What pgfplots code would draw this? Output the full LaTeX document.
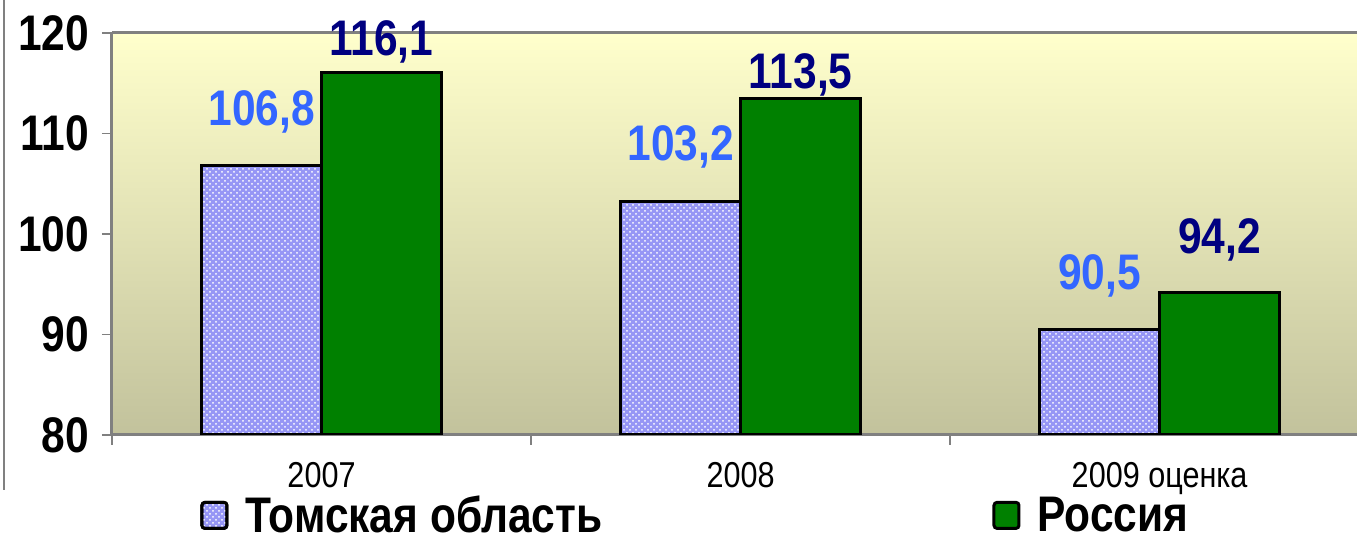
\documentclass[border=0pt]{standalone}
\usepackage{pgfplots}
\pgfplotsset{compat=1.18}
\usepackage{fontspec}
\setmainfont{Liberation Sans}
\newfontfamily\nfont[FakeStretch=0.85]{Liberation Sans}
\usetikzlibrary{patterns}
\definecolor{tomsk}{RGB}{150,150,245}
\definecolor{ross}{RGB}{0,128,0}
\definecolor{tomsklab}{RGB}{51,102,255}
\definecolor{rosslab}{RGB}{0,0,128}
\definecolor{bgtop}{RGB}{255,255,204}
\definecolor{bgbot}{RGB}{194,194,156}
\definecolor{axgrey}{RGB}{128,128,128}

\pgfplotstableread{
x y lab off
0 106.8 106,8 20
1 103.2 103,2 20.5
2 90.5 90,5 20
}\tomsk
\pgfplotstableread{
x y lab off
0 116.1 116,1 8.5
1 113.5 113,5 5
2 94.2 94,2 19.5
}\ross

\begin{document}
\begin{tikzpicture}
\begin{axis}[
  at={(56pt,54.5pt)}, anchor=south west,
  scale only axis, width=622.5pt, height=201pt,
  xmin=-0.5, xmax=2.471, ymin=80, ymax=120,
  ybar=0pt, bar width=0.286,
  axis x line*=box, axis y line*=left,
  axis line style={draw=axgrey, line width=1.5pt},
  axis background/.style={top color=bgtop, bottom color=bgbot},
  ytick={80,90,100,110,120},
  xtick={0,1,2},
  xticklabels={2007,2008,2009 оценка},
  xtick pos=bottom, ytick pos=left,
  tick align=outside,
  major tick length=5pt,
  every tick/.style={draw=axgrey, line width=0.8pt},
  x tick style={draw=none},
  extra x ticks={-0.5,0.5,1.5},
  extra x tick labels={},
  extra x tick style={major tick length=5pt, x tick style={draw=axgrey, line width=0.8pt}},
  /pgf/number format/assume math mode=true,
  yticklabel style={font=\nfont\bfseries\fontsize{25}{28}\selectfont, xshift=-3pt},
  xticklabel style={font=\nfont\fontsize{18}{20}\selectfont, yshift=-5pt},
  legend columns=2,
  legend style={at={(0.4694,-0.2)}, anchor=center, draw=none, fill=none,
    font=\nfont\bfseries\fontsize{25}{28}\selectfont,
    /tikz/every even column/.append style={column sep=193pt}},
  legend cell align=left,
  legend image code/.code={\draw[#1, line width=1.5pt, rounded corners=1.5pt] (0pt,-6.5pt) rectangle (12.5pt,6.5pt); \path (19pt,0pt);},
  point meta=explicit symbolic,
  nodes near coords={\pgfplotspointmeta},
  visualization depends on={\thisrow{off} \as \off},
  every node near coord/.append style={anchor=base, yshift=\off,
    font=\nfont\bfseries\fontsize{25}{28}\selectfont},
]
\addplot[draw=black, line width=1.5pt, fill=tomsk,
  postaction={pattern=crosshatch dots, pattern color=white},
  every node near coord/.append style={text=tomsklab}]
  table[x=x, y=y, meta=lab] {\tomsk};
\addlegendentry{Томская область}
\addplot[draw=black, line width=1.5pt, fill=ross,
  every node near coord/.append style={text=rosslab}]
  table[x=x, y=y, meta=lab] {\ross};
\addlegendentry{Россия}
\end{axis}
\draw[axgrey, line width=0.6pt] (2pt,27pt) -- (2pt,272pt);
\pgfresetboundingbox
\path[use as bounding box] (0,0) rectangle (678.5pt,272pt);
\end{tikzpicture}
\end{document}
